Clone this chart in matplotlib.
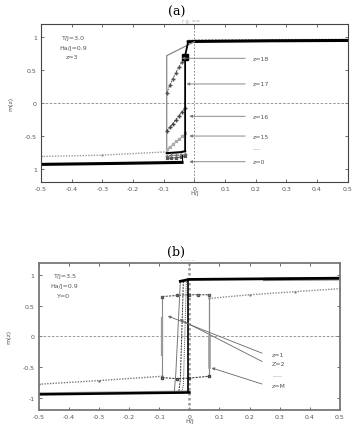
import matplotlib
matplotlib.use("Agg")
import matplotlib.pyplot as plt
import numpy as np

# ---------------- data: panel (a) ----------------
a_xticks = [-0.5, -0.4, -0.3, -0.2, -0.1, 0, 0.1, 0.2, 0.3, 0.4, 0.5]
a_xticklabels = ["-0.5", "-0.4", "-0.3", "-0.2", "-0.1", "0", "0.1", "0.2", "0.3", "0.4", "0.5"]
a_yticks = [-1, -0.5, 0, 0.5, 1]
a_yticklabels = ["1", "-0.5", "0", "0.5", "1"]

a_sat_H = [-0.02, 0.0, 0.25, 0.5]
a_sat_m = [0.93, 0.935, 0.945, 0.95]
a_sat2_m = [0.95, 0.955, 0.96, 0.965]

a_z18_H = [0.0, -0.09, -0.09]
a_z18_m = [0.93, 0.72, -0.74]
a_z18_low_H = [-0.5, -0.3, -0.09]
a_z18_low_m = [-0.81, -0.79, -0.74]

a_z17_H = [-0.09, -0.08, -0.07, -0.06, -0.05, -0.04, -0.03]
a_z17_m = [0.15, 0.27, 0.37, 0.46, 0.55, 0.63, 0.72]

a_z16_H = [-0.09, -0.08, -0.07, -0.06, -0.05, -0.04, -0.03]
a_z16_m = [-0.42, -0.37, -0.31, -0.25, -0.19, -0.13, -0.08]

a_z15_H = [-0.09, -0.08, -0.07, -0.06, -0.05, -0.04, -0.03]
a_z15_m = [-0.70, -0.66, -0.62, -0.58, -0.54, -0.50, -0.46]

a_zlow_H = [-0.09, -0.075, -0.06, -0.045, -0.03]
a_zlow1_m = [-0.76, -0.755, -0.75, -0.745, -0.73]
a_zlow2_m = [-0.80, -0.795, -0.79, -0.785, -0.78]
a_zlow3_m = [-0.84, -0.835, -0.83, -0.82, -0.81]

a_z0_low_H = [-0.5, -0.25, -0.04]
a_z0_low_m = [-0.93, -0.915, -0.9]
a_z0_vert_H = [-0.03, -0.03, -0.02]
a_z0_vert_m = [-0.73, 0.72, 0.93]

a_labels = ["z=18", "z=17", "z=16", "z=15", "....", "z=0"]
a_label_m = [0.68, 0.29, -0.2, -0.5, -0.67, -0.89]
a_arrow_H = [-0.05, -0.034, -0.025, -0.025, None, -0.025]

# ---------------- data: panel (b) ----------------
b_xticks = a_xticks
b_xticklabels = a_xticklabels
b_yticks = [-1, -0.5, 0, 0.5, 1]
b_yticklabels = ["-1", "-0.5", "0", "0.5", "1"]

b_sat_H = [-0.03, 0.0, 0.25, 0.5]
b_sat_m = [0.9, 0.93, 0.94, 0.95]

b_zM_up_H = [0.065, 0.2, 0.35, 0.5]
b_zM_up_m = [0.62, 0.68, 0.73, 0.78]
b_zM_low_H = [-0.5, -0.3, -0.09]
b_zM_low_m = [-0.78, -0.72, -0.65]
b_zM_mid_H = [-0.09, -0.04, 0.0, 0.03, 0.065]
b_zM_mid_m = [0.65, 0.67, 0.68, 0.68, 0.68]
b_zM_bot_H = [-0.09, -0.04, 0.0, 0.065]
b_zM_bot_m = [-0.67, -0.69, -0.68, -0.65]

b_z1_H = [-0.03, -0.045, -0.05]
b_z1_m = [0.9, -0.6, -0.9]
b_z2_H = [-0.02, -0.03, -0.035]
b_z2_m = [0.9, -0.7, -0.9]
b_z3_H = [-0.01, -0.02, -0.025]
b_z3_m = [0.92, -0.8, -0.9]
b_z0_vert_H = [-0.005, -0.005]
b_z0_vert_m = [-0.9, 0.93]

b_low_H = [-0.5, -0.25, 0.0]
b_low_m = [-0.93, -0.915, -0.9]

b_labels = ["z=1", "Z=2", ".....", "z=M"]
b_label_m = [-0.3, -0.44, -0.62, -0.8]
b_arrow_start = [(-0.08, 0.35), (-0.04, 0.3), None, (0.065, -0.5)]

# ---------------- figure ----------------
fig = plt.figure(figsize=(3.53, 4.27), dpi=100)
axa = fig.add_axes([0.116, 0.571, 0.869, 0.3705])
axb = fig.add_axes([0.110, 0.0375, 0.853, 0.3445])

tick_col = "#555555"


def style(ax, xt, xtl, yt, ytl, spine_col, spine_lw):
    ax.set_xlim(-0.5, 0.5)
    ax.set_ylim(-1.2, 1.2)
    ax.set_xticks(xt)
    ax.set_xticklabels(xtl)
    ax.set_yticks(yt)
    ax.set_yticklabels(ytl)
    ax.tick_params(direction="in", length=2.5, width=0.6, labelsize=4.5,
                   colors=tick_col, top=True, right=True, pad=3)
    for s in ax.spines.values():
        s.set_color(spine_col)
        s.set_linewidth(spine_lw)
    ax.axhline(0, color="#888888", lw=0.6, ls=(0, (3, 2)))
    ax.set_xlabel("H/J", fontsize=4.5, color=tick_col, labelpad=-1)
    ax.set_ylabel("m(z)", fontsize=4.5, color=tick_col, labelpad=8)


style(axa, a_xticks, a_xticklabels, a_yticks, a_yticklabels, "#444444", 0.8)
style(axb, b_xticks, b_xticklabels, b_yticks, b_yticklabels, "#777777", 1.3)

# ---- panel (a) curves ----
axa.axvline(0, color="#777777", lw=0.6, ls=(0, (2, 2)))
axa.plot(a_sat_H, a_sat2_m, color="#999999", lw=1.2, ls=(0, (1, 1)))
axa.plot(a_sat_H, a_sat_m, color="black", lw=2.2)
axa.plot(a_z18_H, a_z18_m, color="#888888", lw=0.9)
axa.plot(a_z18_low_H, a_z18_low_m, color="#999999", lw=1.0, ls=(0, (1, 1)),
         marker="+", markersize=2, markevery=1)
axa.plot(a_z17_H, a_z17_m, color="#555555", lw=0.7, ls=(0, (2, 1)),
         marker="+", markersize=2.5)
axa.plot(a_z16_H, a_z16_m, color="#444444", lw=0.7, ls=(0, (2, 1)),
         marker="+", markersize=2.5)
axa.plot(a_z15_H, a_z15_m, color="#aaaaaa", lw=0.7, ls=(0, (1, 1)),
         marker="x", markersize=2)
axa.plot(a_zlow_H, a_zlow1_m, color="black", lw=1.5)
axa.plot(a_zlow_H, a_zlow2_m, color="#777777", lw=0.8, ls=(0, (1, 1)),
         marker="+", markersize=2.5)
axa.plot(a_zlow_H, a_zlow3_m, color="#555555", lw=0.8,
         marker="x", markersize=2)
axa.plot(a_z0_low_H, a_z0_low_m, color="black", lw=2.2)
axa.plot([a_z0_low_H[-1], a_z0_low_H[-1]], [a_z0_low_m[-1], a_zlow2_m[-2]],
         color="black", lw=0.8)
axa.plot(a_z0_vert_H, a_z0_vert_m, color="black", lw=1.3)
axa.plot([a_z0_vert_H[0]], [0.70], marker="s", color="black", markersize=4)

axa.text(-0.43, 1.0, "T/J=3.0", fontsize=4.5, color=tick_col, va="center")
axa.text(-0.44, 0.85, "Ha/J=0.9", fontsize=4.5, color=tick_col, va="center")
axa.text(-0.42, 0.7, "z=3", fontsize=4.5, color=tick_col, va="center")
axa.text(-0.04, 1.22, "r g. ==", fontsize=3.5, color="#aaaaaa", va="bottom")

for lab, m, h in zip(a_labels, a_label_m, a_arrow_H):
    axa.text(0.19, m, lab, fontsize=4.5, color=tick_col, va="center")
    if h is not None:
        axa.annotate("", xy=(h, m), xytext=(0.175, m),
                     arrowprops=dict(arrowstyle="-|>", color="#777777",
                                     lw=0.6, mutation_scale=4))

# ---- panel (b) curves ----
axb.axvline(0, color="#999999", lw=1.8, ls=(0, (1, 1)))
axb.plot(b_zM_up_H, b_zM_up_m, color="#888888", lw=1.0, ls=(0, (1, 1)),
         marker="+", markersize=2)
axb.plot([b_zM_up_H[0], b_zM_up_H[0]], [b_zM_up_m[0], b_zM_bot_m[-1]],
         color="#888888", lw=0.9)
axb.plot([b_zM_up_H[0], b_zM_up_H[0]], [0.0, -0.5], color="#999999", lw=1.8)
axb.plot(b_zM_low_H, b_zM_low_m, color="#777777", lw=1.0, ls=(0, (1, 1)),
         marker="+", markersize=2)
axb.plot([b_zM_low_H[-1], b_zM_low_H[-1]], [b_zM_low_m[-1], b_zM_mid_m[0]],
         color="#888888", lw=0.8)
axb.plot([b_zM_low_H[-1], b_zM_low_H[-1]], [0.3, -0.3], color="#999999", lw=1.6)
axb.plot(b_zM_mid_H, b_zM_mid_m, color="#555555", lw=0.8, ls=(0, (2, 1)),
         marker="s", markersize=2, mfc="none")
axb.plot(b_zM_bot_H, b_zM_bot_m, color="#444444", lw=0.8, ls=(0, (2, 1)),
         marker="s", markersize=2, mfc="none")
axb.plot(b_z1_H, b_z1_m, color="#777777", lw=0.7)
axb.plot(b_z2_H, b_z2_m, color="#333333", lw=0.7, ls=(0, (2, 1)))
axb.plot(b_z3_H, b_z3_m, color="#555555", lw=0.7, ls=(0, (1, 1)))
axb.plot(b_low_H, b_low_m, color="#999999", lw=1.6)
axb.plot(b_low_H, [v - 0.015 for v in b_low_m], color="black", lw=1.8)
axb.plot(b_z0_vert_H, b_z0_vert_m, color="black", lw=1.2)
axb.plot([b_sat_H[-2], b_sat_H[-1]], [b_sat_m[-2] - 0.01, b_sat_m[-1] - 0.01],
         color="#888888", lw=2.4)
axb.plot(b_sat_H, b_sat_m, color="black", lw=2.0)

axb.text(-0.45, 1.0, "T/J=3.5", fontsize=4.5, color=tick_col, va="center")
axb.text(-0.46, 0.83, "Ha/J=0.9", fontsize=4.5, color=tick_col, va="center")
axb.text(-0.44, 0.66, "Y=0", fontsize=4.5, color=tick_col, va="center")
axb.text(-0.03, 1.22, "- - -- --", fontsize=3.5, color="#aaaaaa", va="bottom")

for lab, m, st in zip(b_labels, b_label_m, b_arrow_start):
    axb.text(0.275, m, lab, fontsize=4.5, color=tick_col, va="center")
    if st is not None:
        axb.annotate("", xy=st, xytext=(0.25, m + 0.01),
                     arrowprops=dict(arrowstyle="-|>", color="#666666",
                                     lw=0.6, mutation_scale=4))

fig.text(0.5, 0.985, "(a)", ha="center", va="top", fontsize=9,
         family="DejaVu Serif")
fig.text(0.5, 0.425, "(b)", ha="center", va="top", fontsize=9,
         family="DejaVu Serif")

fig.savefig("out.png", dpi=100)
